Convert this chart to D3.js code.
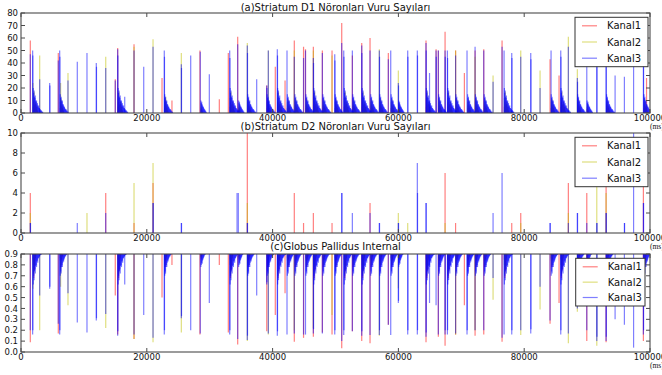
<!DOCTYPE html>
<html>
<head>
<meta charset="utf-8">
<script src="https://cdn.jsdelivr.net/npm/d3@7/dist/d3.min.js"></script>
<style>
  html, body { margin: 0; padding: 0; background: #fff; }
  svg { display: block; }
  text { font-family: "DejaVu Sans", sans-serif; fill: #111; }
</style>
</head>
<body>
<div id="chart"></div>
<script>
// ---- data (time in ms) ----
const channels = ["Kanal1", "Kanal2", "Kanal3"];
const xTicks = [0, 20000, 40000, 60000, 80000, 100000];
const d1Ticks = [0, 10, 20, 30, 40, 50, 60, 70, 80];
const d2Ticks = [0, 2, 4, 6, 8, 10];
const gpiTicks = [0.0, 0.1, 0.2, 0.3, 0.4, 0.5, 0.6, 0.7, 0.8, 0.9];

// (a) Striatum D1 spike counts
const d1Kanal1 = [[1480,58],[5930,48],[14990,27],[15370,52],[17970,55],[22420,28],[24000,10],[28450,50],
  [31530,11],[32960,48],[34450,61],[39070,22],[40430,37],[41980,26],[43450,58],[44920,53],[45230,51],[46480,53],
  [47910,50],[49450,50],[50990,72],[52680,46],[54170,56],[55490,60],[58400,48],[64390,58],[65990,51],[66350,50],
  [67420,65],[69090,50],[70490,32],[72190,50],[73570,51],[76480,58],[84110,43],[85540,30],[99450,28]];
const d1Kanal2 = [[1900,24],[2970,46],[6300,24],[7470,32],[13470,45],[17970,53],[20990,59],[23000,13],
  [25490,48],[35980,56],[39320,50],[43450,50],[46480,50],[49450,46],[56970,51],[59990,34],[69090,50],[72190,45],
  [75050,30],[79450,50],[82520,34],[87020,61],[88450,35]];
const d1Kanal3 = [[1480,47],[1850,50],[1880,46],[2970,27],[4560,24],[4590,22],[5930,42],[6150,50],[6180,45],
  [7470,26],[8950,41],[10490,48],[11970,40],[12000,37],[13470,36],[14990,26],[15370,51],[15400,46],[16490,13],
  [17970,50],[19510,37],[20990,53],[22780,50],[22810,45],[25490,39],[25520,36],[26980,46],[28500,49],[29940,31],
  [33180,50],[33210,44],[34450,55],[35980,54],[36010,48],[37470,27],[39070,22],[39100,20],[39320,50],[40750,51],
  [40780,46],[42290,50],[43450,45],[44920,44],[45230,50],[46480,44],[46510,40],[47910,48],[49880,47],[49910,42],
  [50990,56],[51310,50],[51340,45],[52680,50],[54170,54],[54200,48],[55490,50],[56970,50],[57000,45],[58400,43],
  [58780,50],[59990,24],[60020,22],[61480,50],[61510,45],[63010,50],[63040,46],[64390,56],[64420,50],[64950,32],
  [65990,50],[66020,45],[66350,50],[67420,50],[67450,45],[67790,50],[67820,44],[69090,46],[70910,50],[72190,53],
  [73570,50],[75050,25],[76480,53],[76800,50],[78020,48],[78050,44],[79450,45],[81040,48],[81070,43],[82520,20],
  [84270,50],[85810,50],[85840,45],[87020,53],[88450,28],[88480,25],[89950,50],[91540,42],[91570,38],[93020,45],
  [93050,40],[94450,30],[95930,29],[97390,50],[98950,50],[98980,45]];

// decaying activity after a burst: [start ms, shape]
const burstTails = [[1950,0],[6250,1],[15450,0],[22850,1],[28600,2],[33250,0],[34600,2],[36050,1],[39150,1],
  [40800,0],[42350,1],[43550,1],[45300,1],[46550,0],[48000,1],[49950,1],[51400,0],[52750,1],[54250,0],[55600,1],
  [57050,1],[58850,1],[60050,2],[64450,0],[66400,1],[67850,0],[69150,1],[71000,1],[72250,1],[73650,1],[76850,0],
  [84300,1],[85850,0],[88500,1],[90000,2],[93100,1],[99050,1]];
const tailStep = 65;
const d1TailK1 = [[5,9,4,6,3,7,2,3,5,1,2,1], [4,6,3,5,2,4,1,2,1], [3,4,2,1]];
const d1TailK2 = [[12,8,17,6,7,4,9,3,3,5,1,2], [9,7,11,5,4,6,3,2,1], [5,7,3,2,1]];
const d1TailK3 = [[20,16,18,13,12,14,10,9,10,7,8,6,5,6,4,4,3,3,2,2,2,1,1,1],
  [15,12,13,10,9,10,7,7,6,5,5,4,3,3,3,2,2,1,1,1],
  [10,8,9,7,6,5,5,4,3,3,2,2,1,1]];

// (b) Striatum D2 spike counts
const d2Kanal1 = [[1480,4],[13470,4],[17970,1],[20990,5],[35980,10],[43450,4],[44920,1],[46480,2],[49450,1],
  [55490,3],[67420,6],[69090,1],[78020,1],[79450,2],[87020,5],[89950,4],[93020,5],[98950,5]];
const d2Kanal2 = [[1480,2],[10490,2],[17970,5],[20990,7],[35980,3],[59990,2],[61480,1],[67420,1],[79450,1],
  [87020,2],[91540,5],[93020,4]];
const d2Kanal3 = [[1480,1],[1510,1],[8950,1],[13470,2],[20990,3],[21020,3],[25490,1],[25520,1],[34350,4],[34550,4],
  [35980,1],[36010,1],[50990,4],[51020,4],[52680,2],[55490,2],[56970,1],[57000,1],[59990,1],[60020,1],[63010,7],
  [63040,4],[64390,3],[64420,3],[75050,2],[76480,6],[84110,1],[84140,1],[87020,1],[88450,2],[88480,2],[89950,1],
  [91540,1],[91570,1],[93020,2],[93050,2],[95930,1],[95960,1],[97390,10],[98950,3],[98980,3]];

// (c) Globus Pallidus Internal
const gpiKanal1 = [[1480,0.09],[5930,0.17],[14990,0.52],[15370,0.16],[17970,0.12],[22420,0.5],[24000,0.8],
  [28450,0.16],[31530,0.8],[32960,0.18],[34450,0.07],[39070,0.19],[40430,0.34],[41980,0.54],[43450,0.095],
  [44920,0.13],[46480,0.14],[47910,0.18],[49450,0.16],[50990,0.034],[52680,0.19],[54170,0.1],[55490,0.08],
  [58400,0.25],[64390,0.09],[66350,0.14],[67420,0.058],[69090,0.16],[70490,0.43],[72190,0.15],[73570,0.16],
  [76480,0.095],[84110,0.26],[85540,0.45],[89950,0.1],[93020,0.09],[98950,0.1]];
const gpiKanal2 = [[1900,0.58],[2970,0.2],[6300,0.6],[7470,0.43],[13470,0.22],[17970,0.12],[20990,0.09],
  [25490,0.18],[35980,0.1],[39320,0.16],[43450,0.2],[46480,0.22],[49450,0.34],[56970,0.15],[59990,0.585],
  [69090,0.16],[72190,0.2],[75050,0.48],[79450,0.156],[82520,0.39],[87020,0.08],[88450,0.37],[91540,0.058]];
const gpiKanal3 = [[1480,0.2],[1850,0.16],[1880,0.2],[2970,0.52],[4560,0.58],[4590,0.6],[5930,0.26],[6150,0.16],
  [6180,0.2],[7470,0.54],[8950,0.27],[10490,0.18],[11970,0.29],[12000,0.31],[13470,0.35],[15370,0.15],[15400,0.19],
  [16490,0.62],[17970,0.16],[19510,0.34],[20990,0.13],[22780,0.16],[22810,0.2],[25490,0.31],[25520,0.33],
  [26980,0.2],[28500,0.17],[29940,0.45],[33180,0.16],[33210,0.2],[34450,0.12],[35980,0.11],[36010,0.15],
  [37470,0.52],[39070,0.62],[39100,0.64],[39320,0.17],[40750,0.15],[40780,0.19],[42290,0.16],[43450,0.17],
  [44920,0.16],[45230,0.16],[46480,0.17],[46510,0.21],[47910,0.17],[49880,0.16],[49910,0.2],[50990,0.1],
  [51310,0.156],[51340,0.2],[52680,0.19],[54170,0.15],[54200,0.19],[55490,0.156],[56970,0.156],[57000,0.2],
  [58400,0.25],[58780,0.156],[59990,0.45],[60020,0.47],[61480,0.16],[61510,0.2],[63010,0.16],[63040,0.2],
  [64390,0.14],[64420,0.18],[64950,0.45],[65990,0.43],[66350,0.16],[67420,0.16],[67450,0.2],[67790,0.16],
  [67820,0.2],[69090,0.17],[70910,0.16],[70940,0.2],[72190,0.2],[73570,0.2],[75050,0.68],[76480,0.13],
  [76800,0.16],[78020,0.16],[78050,0.2],[79450,0.2],[81040,0.17],[81070,0.21],[82520,0.6],[84110,0.29],
  [85810,0.16],[85840,0.2],[87020,0.17],[88450,0.4],[88480,0.43],[89950,0.2],[91540,0.1],[91570,0.14],
  [93020,0.1],[93050,0.14],[94450,0.3],[95930,0.25],[97390,0.04],[98950,0.16],[98980,0.2]];
const gpiTailK1 = [[0.85,0.68,0.8,0.75,0.84,0.86,0.88], [0.86,0.78,0.84,0.85,0.87,0.88], [0.87,0.85,0.88]];
const gpiTailK2 = [[0.8,0.72,0.78,0.84,0.86,0.88], [0.84,0.8,0.86,0.87], [0.86,0.88]];
const gpiTailK3 = [[0.62,0.7,0.66,0.74,0.76,0.72,0.79,0.8,0.78,0.83,0.84,0.82,0.86,0.86,0.87,0.88,0.88,0.89,0.89,0.89],
  [0.7,0.74,0.72,0.78,0.8,0.78,0.82,0.84,0.83,0.85,0.86,0.87,0.88,0.88,0.89,0.89],
  [0.78,0.8,0.82,0.81,0.84,0.85,0.86,0.87,0.88,0.89,0.89]];

// ---- drawing ----
const W = 662, H = 375;
const colors = ["#ff0000", "#bfbf00", "#0000ff"];

const svg = d3.select("#chart").append("svg")
  .attr("width", W).attr("height", H);

const x = d3.scaleLinear().domain([0, 100000]).range([21, 650]);

// spread each tail over time so it sits next to its burst
function withTails(points, shapes) {
  const out = points.slice();
  burstTails.forEach(([t0, s]) => {
    shapes[s].forEach((v, i) => out.push([t0 + i * tailStep, v]));
  });
  return out;
}

const panels = [
  { id: "a", title: "(a)Striatum D1 Nöronları Vuru Sayıları", top: 13, bottom: 113, domain: [0, 80], ticks: d1Ticks,
    fmt: d => d, series: [withTails(d1Kanal1, d1TailK1), withTails(d1Kanal2, d1TailK2), withTails(d1Kanal3, d1TailK3)],
    base: 0, titleY: 10.5, legend: { x: 575, y: 17.3, w: 73, h: 49.4 } },
  { id: "b", title: "(b)Striatum D2 Nöronları Vuru Sayıları", top: 133, bottom: 233, domain: [0, 10], ticks: d2Ticks,
    fmt: d => d, series: [d2Kanal1, d2Kanal2, d2Kanal3],
    base: 0, titleY: 130.3, legend: { x: 575, y: 137.3, w: 73, h: 49.4 } },
  { id: "c", title: "(c)Globus Pallidus Internal", top: 254, bottom: 352, domain: [0, 0.9], ticks: gpiTicks,
    fmt: d3.format(".1f"), series: [withTails(gpiKanal1, gpiTailK1), withTails(gpiKanal2, gpiTailK2), withTails(gpiKanal3, gpiTailK3)],
    base: 0.9, titleY: 250, legend: { x: 575.7, y: 258.3, w: 69.3, h: 47.7 } }
];

const axisColor = "#4a4a4a";

panels.forEach(p => {
  const y = d3.scaleLinear().domain(p.domain).range([p.bottom, p.top]);
  const g = svg.append("g");

  g.append("clipPath").attr("id", "clip-" + p.id)
    .append("rect").attr("x", x.range()[0]).attr("y", p.top)
    .attr("width", x.range()[1] - x.range()[0]).attr("height", p.bottom - p.top);

  const plot = g.append("g").attr("clip-path", `url(#clip-${p.id})`);
  p.series.forEach((pts, ci) => {
    plot.append("g").selectAll("line")
      .data(pts)
      .enter()
      .append("line")
      .attr("x1", d => x(d[0]))
      .attr("x2", d => x(d[0]))
      .attr("y1", y(p.base))
      .attr("y2", d => y(d[1]))
      .attr("stroke", colors[ci])
      .attr("stroke-opacity", 0.5)
      .attr("stroke-width", 1.2);
  });

  // frame
  g.append("rect")
    .attr("x", x.range()[0]).attr("y", p.top)
    .attr("width", x.range()[1] - x.range()[0]).attr("height", p.bottom - p.top)
    .attr("fill", "none").attr("stroke", axisColor).attr("stroke-width", 1.1);

  // inward ticks, matplotlib classic style
  const tk = g.append("g").attr("stroke", axisColor).attr("stroke-width", 1);
  xTicks.forEach(t => {
    tk.append("line").attr("x1", x(t)).attr("x2", x(t)).attr("y1", p.bottom).attr("y2", p.bottom - 4);
    tk.append("line").attr("x1", x(t)).attr("x2", x(t)).attr("y1", p.top).attr("y2", p.top + 4);
  });
  p.ticks.forEach(t => {
    tk.append("line").attr("x1", x.range()[0]).attr("x2", x.range()[0] + 4).attr("y1", y(t)).attr("y2", y(t));
    tk.append("line").attr("x1", x.range()[1]).attr("x2", x.range()[1] - 4).attr("y1", y(t)).attr("y2", y(t));
  });

  g.append("g").selectAll("text").data(xTicks).enter().append("text")
    .attr("x", d => x(d)).attr("y", p.bottom + 8.4)
    .attr("text-anchor", "middle").attr("font-size", 8.5)
    .text(d => d);
  g.append("g").selectAll("text").data(p.ticks).enter().append("text")
    .attr("x", 18).attr("y", d => y(d)).attr("dy", "0.36em")
    .attr("text-anchor", "end").attr("font-size", 8.5)
    .text(p.fmt);

  g.append("text").attr("x", 650).attr("y", p.bottom + 16)
    .attr("font-size", 7.5).style("font-family", "'Liberation Serif', serif")
    .text("(ms)");

  g.append("text").attr("x", (x.range()[0] + x.range()[1]) / 2).attr("y", p.titleY)
    .attr("text-anchor", "middle").attr("font-size", 10)
    .text(p.title);

  // legend
  const L = p.legend;
  const lg = g.append("g");
  lg.append("rect").attr("x", L.x).attr("y", L.y).attr("width", L.w).attr("height", L.h)
    .attr("fill", "#fff").attr("stroke", "#333").attr("stroke-width", 1);
  channels.forEach((c, i) => {
    const yy = L.y + 8.5 + i * (L.h - 17) / 2;
    lg.append("line").attr("x1", L.x + 7).attr("x2", L.x + 22).attr("y1", yy).attr("y2", yy)
      .attr("stroke", colors[i]).attr("stroke-opacity", 0.5).attr("stroke-width", 1.2);
    lg.append("text").attr("x", L.x + 32).attr("y", yy).attr("dy", "0.36em")
      .attr("font-size", 10).text(c);
  });
});
</script>
</body>
</html>
